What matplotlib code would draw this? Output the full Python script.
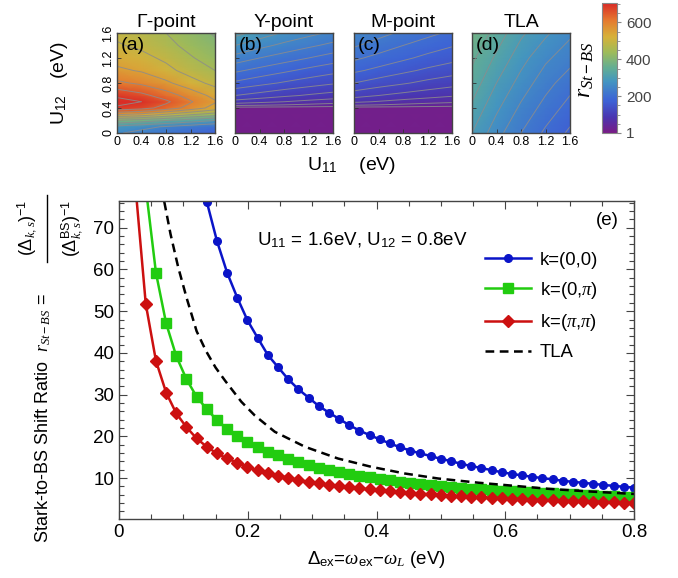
import numpy as np
import matplotlib
matplotlib.use('Agg')
import matplotlib.pyplot as plt
from matplotlib.colors import LinearSegmentedColormap, Normalize
from matplotlib.cm import ScalarMappable
from matplotlib.lines import Line2D
from matplotlib.ticker import MultipleLocator, FixedLocator

plt.rcParams['font.family'] = ['Liberation Sans', 'DejaVu Sans']
plt.rcParams['mathtext.fontset'] = 'custom'
plt.rcParams['mathtext.rm'] = 'Liberation Sans'
plt.rcParams['mathtext.it'] = 'Liberation Serif:italic'
plt.rcParams['mathtext.bf'] = 'Liberation Sans:bold'
plt.rcParams['mathtext.sf'] = 'Liberation Sans'

# ---------------- main panel data (e) ----------------
detuning = [0.0100, 0.0258, 0.0416, 0.0574, 0.0732, 0.0890, 0.1048, 0.1206, 0.1364, 0.1522,
            0.1680, 0.1838, 0.1996, 0.2154, 0.2312, 0.2470, 0.2628, 0.2786, 0.2944, 0.3102,
            0.3260, 0.3418, 0.3576, 0.3734, 0.3892, 0.4050, 0.4208, 0.4366, 0.4524, 0.4682,
            0.4840, 0.4998, 0.5156, 0.5314, 0.5472, 0.5630, 0.5788, 0.5946, 0.6104, 0.6262,
            0.6420, 0.6578, 0.6736, 0.6894, 0.7052, 0.7210, 0.7368, 0.7526, 0.7684, 0.7842, 0.8000]

ratio_k00 = [1000, 400, 250, 190, 150, 122, 103, 88, 76.2, 66.8,
             59.2, 53.2, 47.8, 43.6, 39.5, 36.6, 33.7, 31.3, 29.3, 27.3,
             25.7, 24.2, 22.7, 21.4, 20.3, 19.3, 18.3, 17.4, 16.6, 15.9,
             15.3, 14.6, 14.1, 13.4, 12.9, 12.4, 11.9, 11.4, 11.0, 10.65,
             10.3, 10.0, 9.7, 9.35, 9.1, 8.87, 8.63, 8.35, 8.15, 7.91, 7.7]

ratio_k0pi = [300, 150, 79.6, 59.2, 47.1, 39.2, 33.7, 29.5, 26.5, 23.9,
              21.75, 20.07, 18.56, 17.4, 16.3, 15.5, 14.6, 13.8, 13.1, 12.5,
              11.9, 11.4, 10.96, 10.56, 10.17, 9.76, 9.45, 9.11, 8.87, 8.56,
              8.25, 8.01, 7.77, 7.60, 7.44, 7.28, 7.13, 6.99, 6.85, 6.71,
              6.58, 6.45, 6.33, 6.21, 6.09, 5.98, 5.87, 5.76, 5.66, 5.56, 5.46]

ratio_kpipi = [170, 79.5, 51.7, 38.1, 30.5, 25.5, 22.2, 19.5, 17.5, 15.9,
               14.7, 13.7, 12.6, 11.9, 11.2, 10.6, 10.1, 9.52, 9.12, 8.72,
               8.32, 8.06, 7.77, 7.53, 7.29, 7.05, 6.86, 6.64, 6.46, 6.26,
               6.09, 5.92, 5.78, 5.65, 5.52, 5.40, 5.28, 5.17, 5.06, 4.96,
               4.86, 4.77, 4.68, 4.59, 4.51, 4.43, 4.35, 4.28, 4.20, 4.13, 4.05]

tla_x = [0.055, 0.070, 0.080, 0.092, 0.105, 0.1206, 0.135, 0.150, 0.165, 0.190, 0.211,
         0.242, 0.289, 0.340, 0.392, 0.444, 0.496, 0.558, 0.610, 0.670, 0.730, 0.800]
tla_y = [100, 76.5, 68.5, 60.5, 53.2, 45.2, 40.5, 36.5, 33.3, 28.3, 25.0,
         21.1, 17.5, 14.7, 12.7, 11.1, 9.9, 8.9, 8.2, 7.4, 6.8, 6.2]

series_labels = ['k=(0,0)', 'k=(0,$\\pi$)', 'k=($\\pi$,$\\pi$)', 'TLA']
series_colors = ['#0a14c8', '#22cc10', '#cc1010', 'black']

# ---------------- heat-map data (a)-(d) ----------------
panel_titles = ['\u0393-point', 'Y-point', 'M-point', 'TLA']
panel_tags = ['(a)', '(b)', '(c)', '(d)']
u11_grid = [0.0, 0.4, 0.8, 1.2, 1.6]

gamma_u12 = [0.0, 0.1, 0.2, 0.3, 0.4, 0.5, 0.6, 0.8, 1.0, 1.2, 1.4, 1.6]
gamma_vals = [[255, 235, 215, 195, 172],
              [285, 265, 245, 225, 205],
              [395, 375, 350, 325, 300],
              [560, 540, 500, 460, 430],
              [690, 670, 630, 580, 530],
              [720, 700, 660, 605, 555],
              [690, 665, 625, 580, 535],
              [610, 590, 560, 520, 485],
              [560, 545, 515, 480, 450],
              [530, 515, 490, 455, 425],
              [505, 490, 465, 435, 410],
              [490, 475, 450, 420, 395]]

ypt_u12 = [0.0, 0.4, 0.45, 0.5, 0.6, 0.8, 1.0, 1.2, 1.4, 1.6]
ypt_vals = [[10, 10, 10, 10, 10],
            [12, 12, 12, 12, 12],
            [60, 55, 50, 45, 40],
            [90, 82, 75, 68, 62],
            [125, 115, 105, 97, 90],
            [170, 158, 147, 137, 128],
            [205, 192, 180, 168, 158],
            [240, 225, 212, 200, 188],
            [275, 258, 243, 230, 218],
            [310, 290, 272, 258, 245]]

mpt_u12 = [0.0, 0.4, 0.45, 0.5, 0.6, 0.8, 1.0, 1.2, 1.4, 1.6]
mpt_vals = [[10, 10, 10, 10, 10],
            [12, 12, 12, 12, 12],
            [55, 50, 45, 40, 36],
            [80, 73, 66, 60, 55],
            [110, 100, 92, 85, 78],
            [150, 138, 128, 118, 110],
            [180, 168, 156, 145, 136],
            [205, 192, 180, 168, 158],
            [228, 214, 200, 188, 177],
            [250, 234, 220, 207, 195]]

tla_u12 = [0.0, 0.4, 0.8, 1.2, 1.6]
tla_vals = [[300, 260, 225, 195, 170],
            [320, 280, 245, 215, 190],
            [340, 300, 265, 235, 210],
            [355, 320, 285, 255, 235],
            [375, 340, 305, 280, 255]]

cbar_ticks = [1, 200, 400, 600]

# ---------------- figure ----------------
W, H = 678, 578
fig = plt.figure(figsize=(W / 100, H / 100), dpi=100)

def fx(px):
    return px / W

def fy(py):
    return 1 - py / H

cmap = LinearSegmentedColormap.from_list('rainbow_m', [
    (0.00, '#781c86'), (0.12, '#4a35b0'), (0.25, '#3d63d6'), (0.40, '#4496c0'),
    (0.50, '#62ad94'), (0.62, '#9dbb5a'), (0.74, '#d6b13a'), (0.87, '#e5782f'),
    (1.00, '#d92b26')])
norm = Normalize(vmin=1, vmax=705)

panels = [(gamma_u12, gamma_vals, [250, 300, 350, 400, 450, 500, 550, 600, 650, 700]),
          (ypt_u12, ypt_vals, [25, 50, 75, 100, 125, 150, 175, 200, 225, 250, 275, 300]),
          (mpt_u12, mpt_vals, [25, 50, 75, 100, 125, 150, 175, 200, 225]),
          (tla_u12, tla_vals, [175, 200, 225, 250, 275, 300, 325, 350])]
lefts = [117, 235, 354, 472]
for i, (u12, vals, levels) in enumerate(panels):
    ax = fig.add_axes([fx(lefts[i]), fy(133), 98 / W, 100 / H])
    X, Y = np.meshgrid(u11_grid, u12)
    Z = np.array(vals, dtype=float)
    ax.pcolormesh(X, Y, Z, shading='gouraud', cmap=cmap, norm=norm)
    ax.contour(X, Y, Z, levels=levels, colors='#8c8c8c', linewidths=0.7, alpha=0.85)
    ax.set_xlim(0, 1.6)
    ax.set_ylim(0, 1.6)
    ax.set_xticks([0, 0.4, 0.8, 1.2, 1.6])
    ax.set_xticklabels(['0', '0.4', '0.8', '1.2', '1.6'], fontsize=9)
    ax.set_yticks([0, 0.4, 0.8, 1.2, 1.6])
    if i == 0:
        ax.set_yticklabels(['0', '0.4', '0.8', '1.2', '1.6'], fontsize=9,
                           rotation=90, va='center')
    else:
        ax.set_yticklabels([])
    ax.tick_params(direction='in', length=3, width=0.6, color='#333333', pad=2)
    for s in ax.spines.values():
        s.set_color('#444444')
        s.set_linewidth(1.0)
    ax.set_title(panel_titles[i], fontsize=14, pad=4)
    ax.text(0.04, 0.96, panel_tags[i], transform=ax.transAxes, ha='left', va='top',
            fontsize=14)

fig.text(fx(60), fy(83), 'U$_{12}$   (eV)', rotation=90, ha='center', va='center',
         fontsize=14)
fig.text(fx(352), fy(165), 'U$_{11}$    (eV)', ha='center', va='center', fontsize=14)

cax = fig.add_axes([fx(602), fy(133), 15 / W, 130 / H])
sm = ScalarMappable(norm=norm, cmap=cmap)
cb = fig.colorbar(sm, cax=cax)
cb.set_ticks(cbar_ticks)
cb.set_ticklabels([str(t) for t in cbar_ticks])
cb.ax.yaxis.set_minor_locator(MultipleLocator(50))
cb.ax.tick_params(labelsize=11, labelcolor='#444444', color='#888888', length=3)
cb.ax.tick_params(which='minor', length=2, color='#888888')
cb.outline.set_edgecolor('#888888')
fig.text(fx(585), fy(70), '$r_{St-BS}$', rotation=90, ha='center', va='center',
         fontsize=17)

# ---------------- main axes ----------------
ax = fig.add_axes([fx(119), fy(519), 515 / W, 318 / H])
ax.plot(detuning, ratio_k00, '-o', color=series_colors[0], lw=1.8, ms=5.5,
        mec=series_colors[0], label=series_labels[0])
ax.plot(detuning, ratio_k0pi, '-s', color=series_colors[1], lw=1.8, ms=6.5,
        mec=series_colors[1], label=series_labels[1])
ax.plot(detuning, ratio_kpipi, '-D', color=series_colors[2], lw=1.8, ms=6,
        mec=series_colors[2], label=series_labels[2])
ax.plot(tla_x, tla_y, '--', color=series_colors[3], lw=1.8, dashes=(3.5, 2.2),
        label=series_labels[3])
ax.set_xlim(0, 0.8)
ax.set_ylim(0.2, 76.4)
ax.set_xticks([0, 0.2, 0.4, 0.6, 0.8])
ax.set_xticklabels(['0', '0.2', '0.4', '0.6', '0.8'])
ax.xaxis.set_minor_locator(MultipleLocator(0.05))
ax.set_yticks([10, 20, 30, 40, 50, 60, 70])
ax.yaxis.set_minor_locator(FixedLocator(list(range(2, 77, 2))))
ax.tick_params(which='both', direction='in', top=True, right=True, labelsize=13.5,
               color='#444444', width=0.8)
ax.tick_params(which='major', length=6)
ax.tick_params(which='minor', length=3.5)
for s in ax.spines.values():
    s.set_color('#444444')
    s.set_linewidth(1.0)
ax.set_xlabel('$\\Delta_{\\rm ex}$=$\\omega_{\\rm ex}$\u2212$\\omega_L$ (eV)', fontsize=13.5,
              labelpad=6)

ax.text(0.268, 0.877, 'U$_{11}$ = 1.6eV, U$_{12}$ = 0.8eV', transform=ax.transAxes,
        ha='left', va='center', fontsize=13.5)
ax.text(0.97, 0.965, '(e)', transform=ax.transAxes, ha='right', va='top', fontsize=13.5)

leg = ax.legend(loc='upper left', bbox_to_anchor=(0.71, 0.84), frameon=False,
                handlelength=2.5, handletextpad=0.5, labelspacing=0.6, fontsize=13.3,
                borderpad=0, borderaxespad=0, numpoints=1)

# y label: text part and a full-size fraction
fig.text(fx(43), fy(543), 'Stark-to-BS Shift Ratio  $r_{St-BS}$ =',
         rotation=90, ha='center', va='bottom', fontsize=13)
fig.text(fx(27), fy(228), '$(\\Delta_{k,s})^{-1}$', rotation=90, ha='center',
         va='center', fontsize=13)
fig.text(fx(72), fy(228), '$(\\Delta_{k,s}^{\\rm BS})^{-1}$', rotation=90, ha='center',
         va='center', fontsize=13)
fig.add_artist(Line2D([fx(47), fx(47)], [fy(195), fy(262)], color='black', lw=1.0,
                      transform=fig.transFigure))

fig.savefig('out.png', dpi=100)
